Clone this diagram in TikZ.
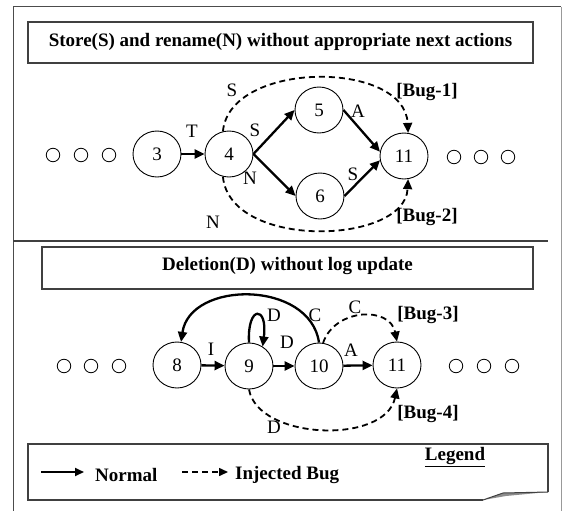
\documentclass[tikz,border=0pt]{standalone}
\usepackage{fontspec}
\setmainfont{Liberation Serif}
\usetikzlibrary{shapes.geometric,arrows.meta}
\begin{document}
\begin{tikzpicture}[x=1pt,y=-1pt,
 state/.style={ellipse,draw,line width=0.9pt,minimum width=48pt,minimum height=46pt,inner sep=0pt,font=\fontsize{19}{21}\selectfont},
 dot/.style={circle,draw,line width=0.8pt,minimum size=13.5pt,inner sep=0pt},
 normal/.style={line width=2.3pt,-{Triangle[length=10pt,width=9pt]}},
 bug/.style={line width=1.8pt,dash pattern=on 6pt off 4pt,-{Triangle[length=10pt,width=9pt]}},
 lab/.style={font=\fontsize{19}{21}\selectfont,inner sep=0pt},
 blab/.style={font=\bfseries\fontsize{19}{21}\selectfont,inner sep=0pt},
 box/.style={draw=black!75,line width=1.2pt}]
\useasboundingbox (0,0) rectangle (562,511);
% frame
\draw[black!70,line width=1pt] (13,511) -- (13,7) -- (561,7);
\draw[black!40,line width=1pt] (561,7) -- (561,511);
\draw[black!75,line width=1.5pt] (13,241) -- (548,241);
% titles
\draw[box] (28,22) rectangle (533,63);
\node[blab] (t1) at (280.5,42) {Store(S) and rename(N) without appropriate next actions};
\draw[box] (42,247) rectangle (533,289);
\node[blab] (t2) at (287.5,266) {Deletion(D) without log update};
% row 1
\node[dot] (a1) at (53,155) {};
\node[dot] (a2) at (81,155) {};
\node[dot] (a3) at (109,155) {};
\node[state] (n3) at (157,154) {3};
\node[state] (n4) at (229,154) {4};
\node[state] (n5) at (319,110) {5};
\node[state] (n6) at (320,196) {6};
\node[state] (n11a) at (404,156) {11};
\node[dot] (b1) at (454,157) {};
\node[dot] (b2) at (481,157) {};
\node[dot] (b3) at (508,157) {};
\draw[normal] (n3) -- (n4);
\draw[normal] (n4.east) -- (n5.west);
\draw[normal] (n4.east) -- (n6.west);
\draw[normal] (n5.east) -- (n11a.170);
\draw[normal] (n6.east) -- (n11a.190);
\draw[bug] (n4.105) .. controls (230,60) and (405,60) .. (n11a.80);
\draw[bug] (n4.255) .. controls (230,250) and (405,245) .. (n11a.280);
\node[lab] (lT) at (192,131) {T};
\node[lab] (lS1) at (255,130) {S};
\node[lab] (lN1) at (250,178) {N};
\node[lab] (lA1) at (358,111) {A};
\node[lab] (lS2) at (353,174) {S};
\node[lab] (lS3) at (232,90) {S};
\node[lab] (lN2) at (213,222) {N};
\node[blab] (bug1) at (427,92) {[Bug-1]};
\node[blab] (bug2) at (427,217) {[Bug-2]};
% row 2
\node[dot] (c1) at (64,366) {};
\node[dot] (c2) at (91,366) {};
\node[dot] (c3) at (119,366) {};
\node[state] (n8) at (177,365) {8};
\node[state] (n9) at (249,366) {9};
\node[state] (n10) at (319,366) {10};
\node[state] (n11b) at (397,365) {11};
\node[dot] (d1) at (456,366) {};
\node[dot] (d2) at (484,366) {};
\node[dot] (d3) at (512,366) {};
\draw[normal] (n8) -- (n9);
\draw[normal] (n9) -- (n10);
\draw[normal] (n10) -- (n11b);
\draw[normal] (n10.north) .. controls (310,280) and (190,280) .. (n8.80);
\draw[normal] (n9.north) .. controls (247,305) and (268,305) .. (n9.55);
\draw[bug] (n10.80) .. controls (335,308) and (390,306) .. (n11b.north);
\draw[bug] (n9.south) .. controls (258,440) and (385,445) .. (n11b.south);
\node[lab] (lI) at (211,349) {I};
\node[lab] (lD1) at (274,315) {D};
\node[lab] (lC1) at (315,315) {C};
\node[lab] (lD2) at (287,342) {D};
\node[lab] (lC2) at (355,307) {C};
\node[lab] (lA2) at (351,350) {A};
\node[lab] (lD3) at (274,427) {D};
\node[blab] (bug3) at (428,315) {[Bug-3]};
\node[blab] (bug4) at (428,414) {[Bug-4]};
% legend
\draw[box] (483,500) -- (28,500) -- (28,444) -- (548,444) -- (548,492);
\fill[black!45] (483,500) -- (503,493) -- (548,492) -- (506,496) -- cycle;
\draw[black!75,line width=1pt] (483,500) -- (503,493) -- (548,492);
\node[blab] (leg) at (455,457) {\underline{Legend}};
\coordinate (s1) at (41,472);
\coordinate (s2) at (84,472);
\coordinate (q1) at (182,472);
\coordinate (q2) at (228,472);
\draw[line width=2pt,-{Triangle[length=9pt,width=8pt]}] (s1) -- (s2);
\draw[line width=1.5pt,dash pattern=on 6pt off 4pt,-{Triangle[length=9pt,width=8pt]}] (q1) -- (q2);
\node[blab,anchor=west] (lnorm) at (95,475) {Normal};
\node[blab,anchor=west] (linj) at (235,475) {Injected Bug};
\end{tikzpicture}
\end{document}
